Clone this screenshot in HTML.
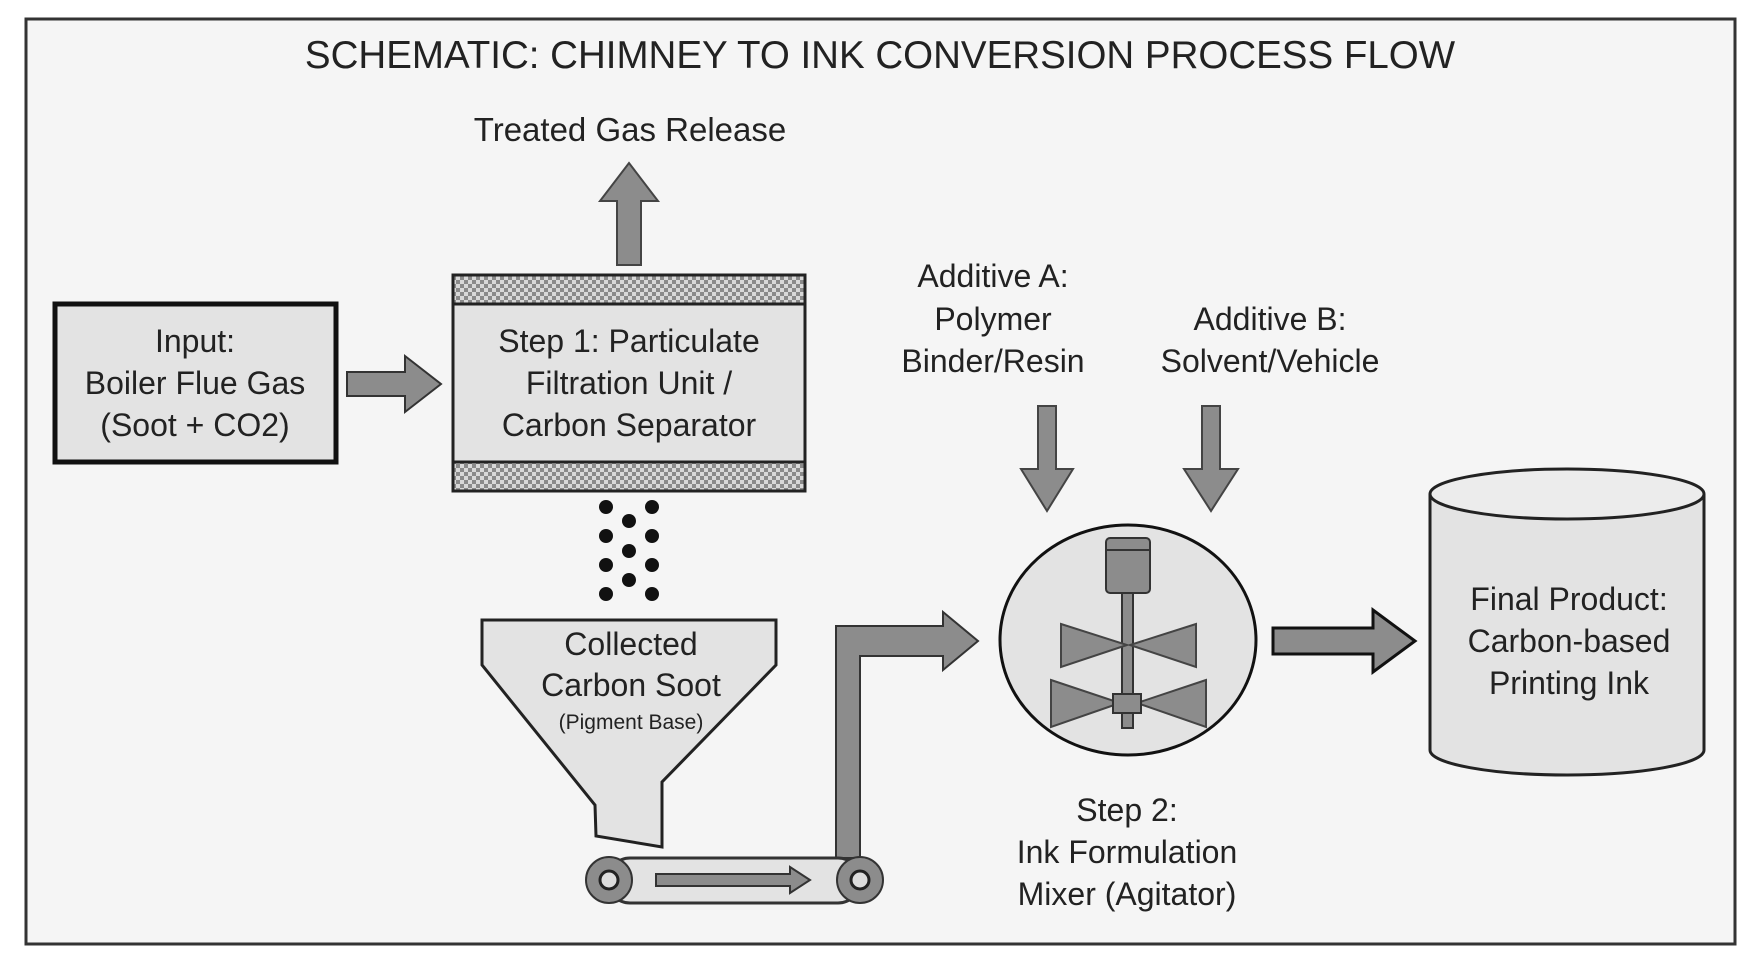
<!DOCTYPE html>
<html><head><meta charset="utf-8"><style>
html,body{margin:0;padding:0;background:#fff;}
svg{display:block}
text{font-family:"Liberation Sans",sans-serif;fill:#222;text-anchor:middle}
</style></head><body>
<svg width="1752" height="976" viewBox="0 0 1752 976" xmlns="http://www.w3.org/2000/svg">
<defs>
<pattern id="chk" width="8" height="8" patternUnits="userSpaceOnUse">
<rect width="8" height="8" fill="#d8d8d8"/><rect width="4" height="4" fill="#8a8a8a"/><rect x="4" y="4" width="4" height="4" fill="#8a8a8a"/>
</pattern>
</defs>
<rect x="0" y="0" width="1752" height="976" fill="#fff"/>
<rect x="26" y="19" width="1709" height="925" fill="#f5f5f5" stroke="#333" stroke-width="3"/>
<text x="880" y="68" font-size="38.5">SCHEMATIC: CHIMNEY TO INK CONVERSION PROCESS FLOW</text>
<text x="630" y="141" font-size="33">Treated Gas Release</text>
<polygon points="617,265 617,201 600,201 629,163 658,201 641,201 641,265" fill="#8c8c8c" stroke="#444" stroke-width="2"/>
<rect x="55" y="304" width="281" height="158" fill="#e3e3e3" stroke="#111" stroke-width="5"/>
<text x="195" y="352" font-size="32">Input:</text>
<text x="195" y="394" font-size="32">Boiler Flue Gas</text>
<text x="195" y="436" font-size="32">(Soot + CO2)</text>
<polygon points="347,372 405,372 405,356 441,384 405,412 405,396 347,396" fill="#8c8c8c" stroke="#333" stroke-width="2"/>
<rect x="453" y="275" width="352" height="216" fill="#e3e3e3" stroke="#222" stroke-width="3"/>
<rect x="453" y="275" width="352" height="29" fill="url(#chk)" stroke="#222" stroke-width="3"/>
<rect x="453" y="462" width="352" height="29" fill="url(#chk)" stroke="#222" stroke-width="3"/>
<text x="629" y="352" font-size="32">Step 1: Particulate</text>
<text x="629" y="394" font-size="32">Filtration Unit /</text>
<text x="629" y="436" font-size="32">Carbon Separator</text>
<g fill="#111">
<circle cx="606" cy="507" r="7"/><circle cx="652" cy="507" r="7"/>
<circle cx="629" cy="521" r="7"/>
<circle cx="606" cy="536" r="7"/><circle cx="652" cy="536" r="7"/>
<circle cx="629" cy="551" r="7"/>
<circle cx="606" cy="565" r="7"/><circle cx="652" cy="565" r="7"/>
<circle cx="629" cy="580" r="7"/>
<circle cx="606" cy="594" r="7"/><circle cx="652" cy="594" r="7"/>
</g>
<polygon points="482,620 776,620 776,665 662,782 662,847 596,836 595,805 482,665" fill="#e3e3e3" stroke="#222" stroke-width="3"/>
<text x="631" y="655" font-size="32">Collected</text>
<text x="631" y="696" font-size="32">Carbon Soot</text>
<text x="631" y="729" font-size="21">(Pigment Base)</text>
<polygon points="836,858 836,626 943,626 943,612 978,641 943,670 943,656 860,656 860,858" fill="#8c8c8c" stroke="#333" stroke-width="2"/>
<rect x="608" y="858" width="252" height="45" rx="22" fill="#e3e3e3" stroke="#333" stroke-width="3"/>
<circle cx="609" cy="880" r="23" fill="#8c8c8c" stroke="#333" stroke-width="2"/>
<circle cx="609" cy="880" r="9" fill="#ddd" stroke="#222" stroke-width="3"/>
<circle cx="860" cy="880" r="23" fill="#8c8c8c" stroke="#333" stroke-width="2"/>
<circle cx="860" cy="880" r="9" fill="#ddd" stroke="#222" stroke-width="3"/>
<polygon points="656,874 790,874 790,867 810,880 790,893 790,886 656,886" fill="#8c8c8c" stroke="#333" stroke-width="2"/>
<text x="993" y="287" font-size="32">Additive A:</text>
<text x="993" y="330" font-size="32">Polymer</text>
<text x="993" y="372" font-size="32">Binder/Resin</text>
<text x="1270" y="330" font-size="32">Additive B:</text>
<text x="1270" y="372" font-size="32">Solvent/Vehicle</text>
<polygon points="1038,406 1056,406 1056,469 1073,469 1047,511 1021,469 1038,469" fill="#8c8c8c" stroke="#444" stroke-width="2"/>
<polygon points="1202,406 1220,406 1220,469 1238,469 1211,511 1184,469 1202,469" fill="#8c8c8c" stroke="#444" stroke-width="2"/>
<ellipse cx="1128" cy="640" rx="128" ry="115" fill="#e3e3e3" stroke="#111" stroke-width="3"/>
<rect x="1106" y="538" width="44" height="55" rx="4" fill="#8c8c8c" stroke="#333" stroke-width="2"/>
<line x1="1106" y1="550" x2="1150" y2="550" stroke="#333" stroke-width="2"/>
<rect x="1122" y="593" width="11" height="135" fill="#8c8c8c" stroke="#333" stroke-width="2"/>
<polygon points="1061,624 1127,645 1061,667" fill="#8c8c8c" stroke="#444" stroke-width="2"/>
<polygon points="1196,624 1130,645 1196,667" fill="#8c8c8c" stroke="#444" stroke-width="2"/>
<polygon points="1051,680 1120,703 1051,727" fill="#8c8c8c" stroke="#444" stroke-width="2"/>
<polygon points="1206,680 1137,703 1206,727" fill="#8c8c8c" stroke="#444" stroke-width="2"/>
<rect x="1113" y="694" width="28" height="19" fill="#8c8c8c" stroke="#333" stroke-width="2"/>
<text x="1127" y="821" font-size="32">Step 2:</text>
<text x="1127" y="863" font-size="32">Ink Formulation</text>
<text x="1127" y="905" font-size="32">Mixer (Agitator)</text>
<polygon points="1273,628 1373,628 1373,610 1415,641 1373,672 1373,654 1273,654" fill="#8c8c8c" stroke="#111" stroke-width="3"/>
<path d="M1430,494 L1430,750 A137,25 0 0 0 1704,750 L1704,494" fill="#e3e3e3" stroke="#222" stroke-width="3"/>
<ellipse cx="1567" cy="494" rx="137" ry="25" fill="#ececec" stroke="#222" stroke-width="3"/>
<text x="1569" y="610" font-size="32">Final Product:</text>
<text x="1569" y="652" font-size="32">Carbon-based</text>
<text x="1569" y="694" font-size="32">Printing Ink</text>
</svg>
</body></html>
